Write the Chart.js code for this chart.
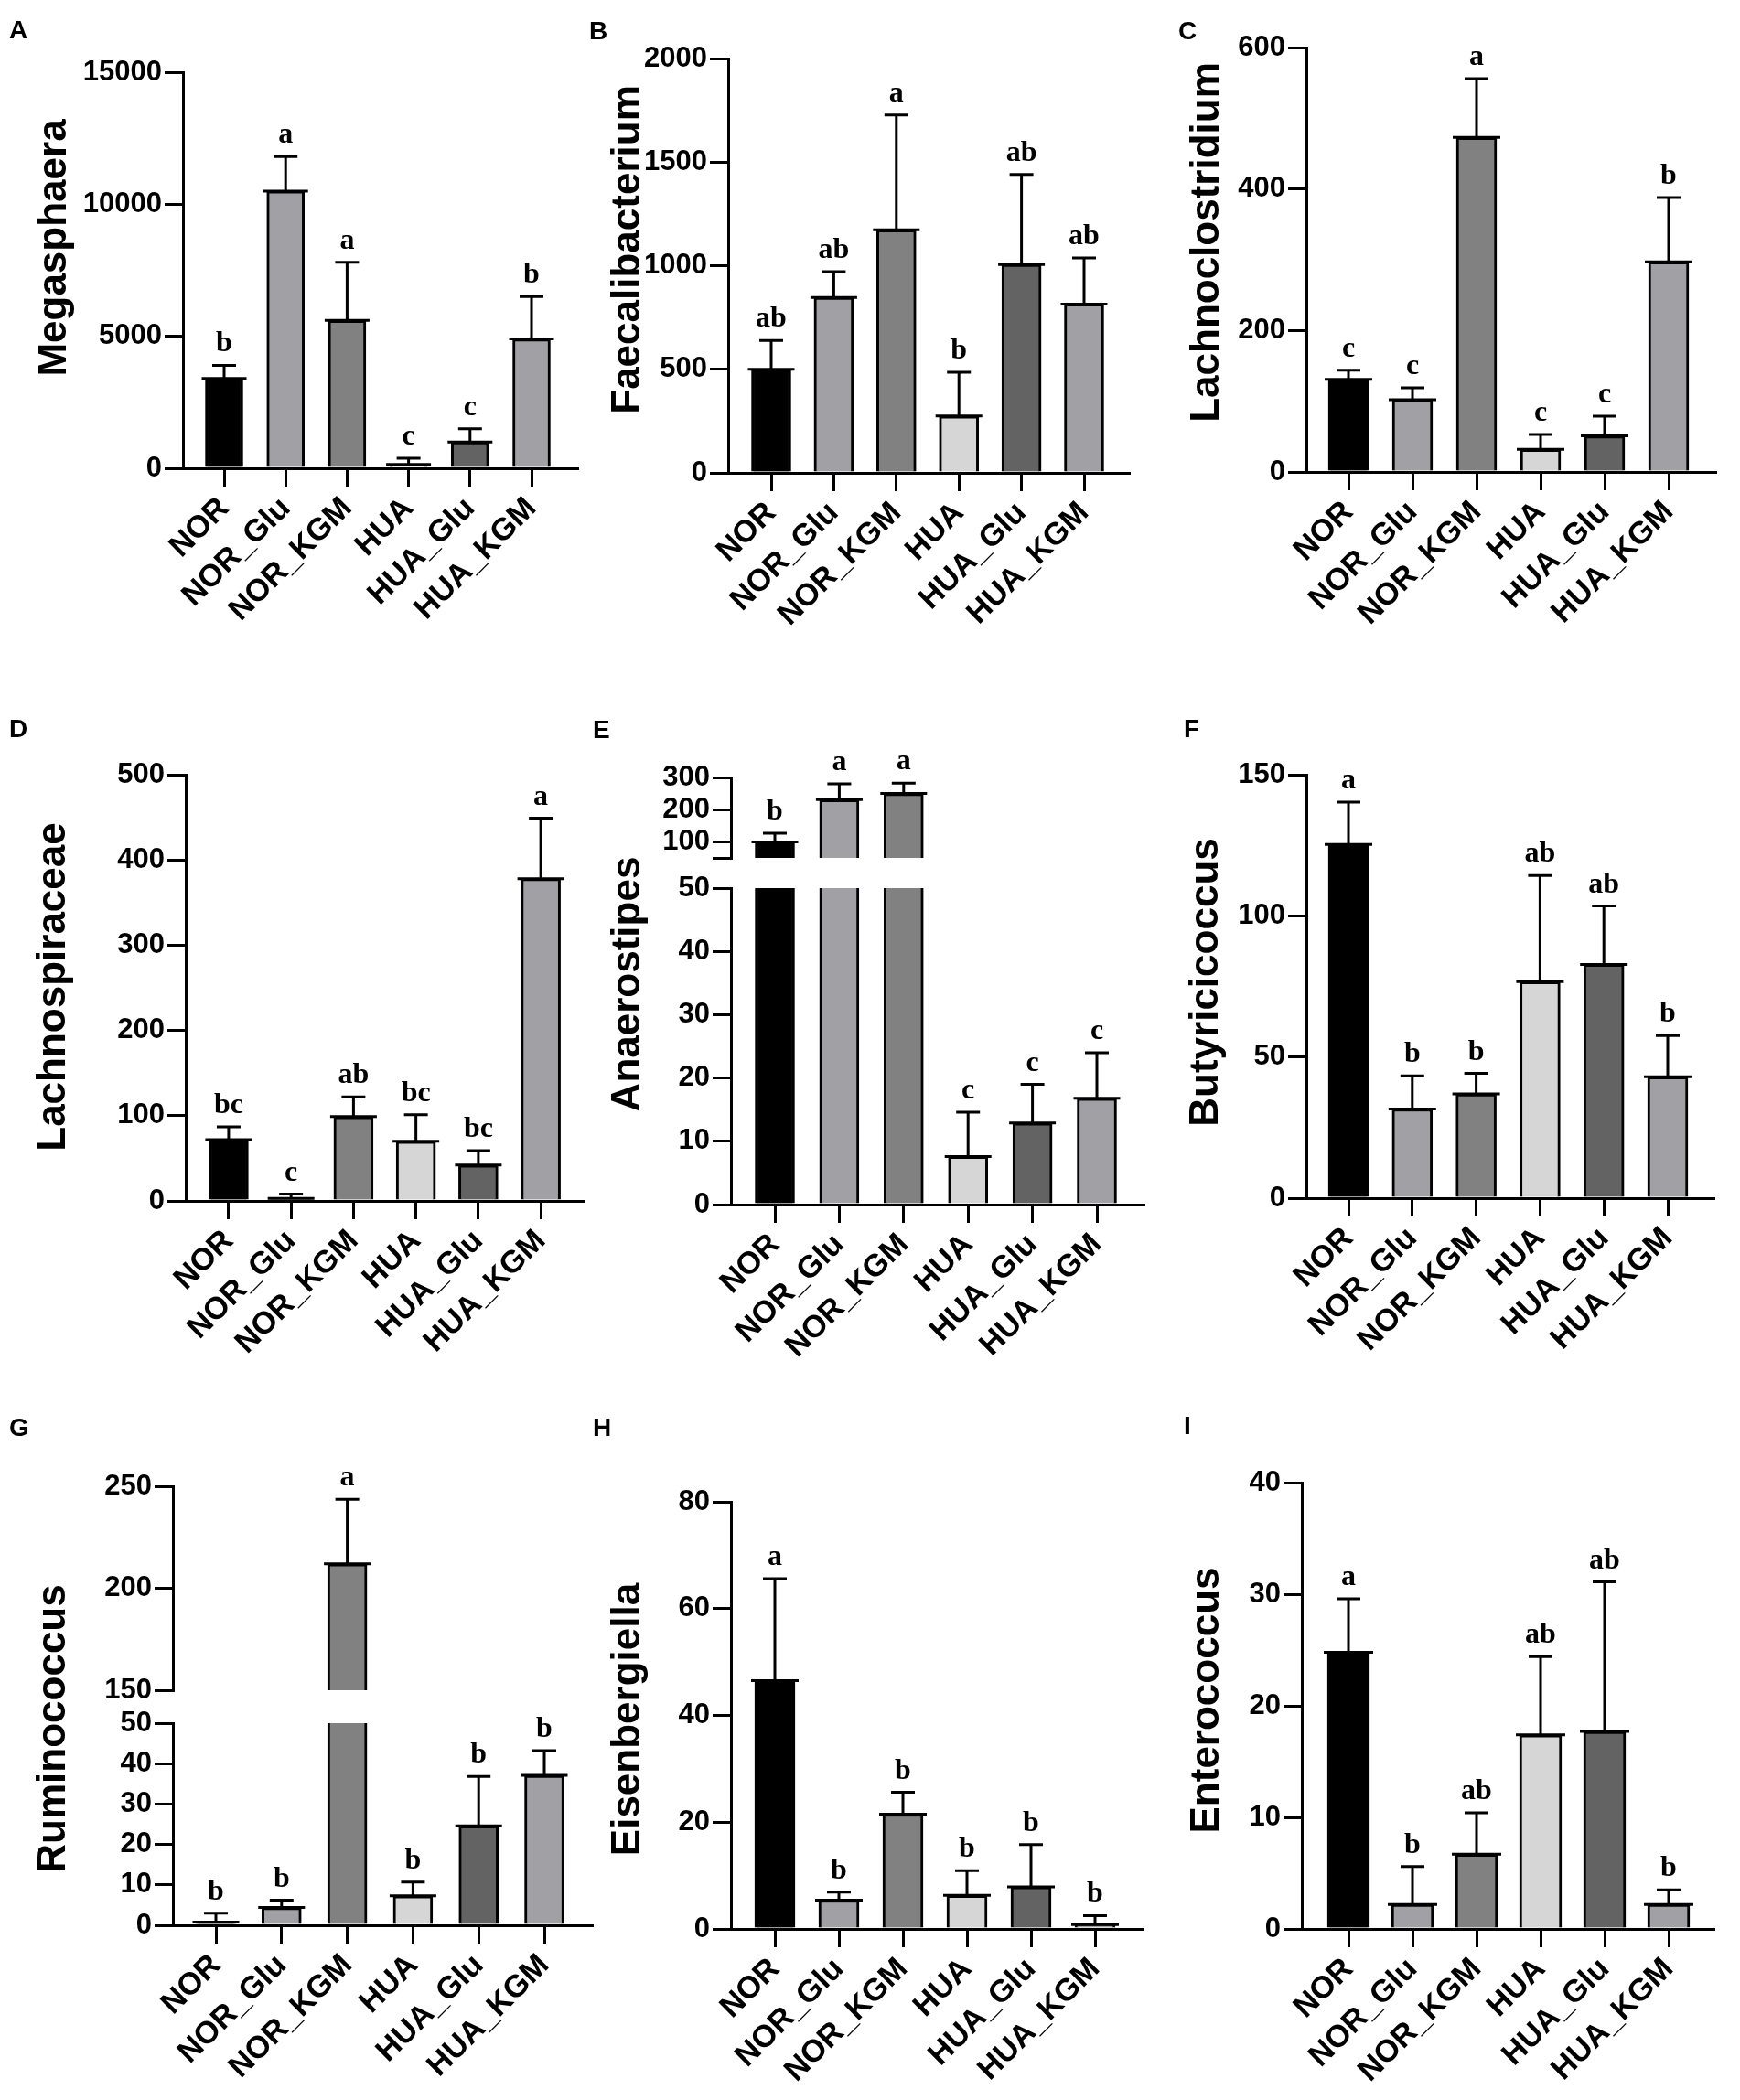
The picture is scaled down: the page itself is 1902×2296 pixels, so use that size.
<!DOCTYPE html>
<html>
<head>
<meta charset="utf-8">
<script src="https://cdn.jsdelivr.net/npm/chart.js@4.4.1/dist/chart.umd.min.js"></script>
<style>
  body { margin: 0; background: #fff; width: 1902px; height: 2296px; position: relative; overflow: hidden; }
  canvas { position: absolute; }
</style>
</head>
<body>
<script>
// groups and colours shared by every panel
const groups = ["NOR", "NOR_Glu", "NOR_KGM", "HUA", "HUA_Glu", "HUA_KGM"];
const barColors = ["#000000", "#a1a1a5", "#818181", "#d6d6d6", "#636363", "#a1a1a5"];

// A
const megasphaeraMean = [3400, 10500, 5600, 150, 1000, 4900];
const megasphaeraUpper = [3900, 11800, 7800, 380, 1500, 6500];
const megasphaeraSig = ["b", "a", "a", "c", "c", "b"];
// B
const faecaliMean = [500, 847, 1173, 275, 1006, 815];
const faecaliUpper = [639, 971, 1727, 486, 1440, 1038];
const faecaliSig = ["ab", "ab", "a", "b", "ab", "ab"];
// C
const lachnoclostMean = [131, 102, 473, 32, 51, 297];
const lachnoclostUpper = [144, 119, 556, 53, 79, 388];
const lachnoclostSig = ["c", "c", "a", "c", "c", "b"];
// D
const lachnospMean = [72, 3, 99, 70, 42, 378];
const lachnospUpper = [87, 8, 122, 101, 59, 449];
const lachnospSig = ["bc", "c", "ab", "bc", "bc", "a"];
// E (broken axis)
const anaeroMean = [100, 231, 250, 7.6, 12.9, 16.8];
const anaeroUpper = [127, 280, 282, 14.6, 19.0, 24.0];
const anaeroSig = ["b", "a", "a", "c", "c", "c"];
const anaeroTopTicks = [50, 100, 200, 300];
// F
const butyriMean = [125.3, 31.6, 36.9, 76.7, 82.8, 43];
const butyriUpper = [140.3, 43.3, 44.2, 114.3, 103.5, 57.6];
const butyriSig = ["a", "b", "b", "ab", "ab", "b"];
// G (broken axis)
const rumiMean = [0.8, 4.4, 212, 7.3, 24.6, 37.1];
const rumiUpper = [3.0, 6.2, 243.6, 10.7, 36.8, 43.2];
const rumiSig = ["b", "b", "a", "b", "b", "b"];
// H
const eisenMean = [46.5, 5.4, 21.5, 6.3, 7.9, 0.8];
const eisenUpper = [65.6, 6.9, 25.6, 10.9, 15.8, 2.5];
const eisenSig = ["a", "b", "b", "b", "b", "b"];
// I
const enteroMean = [24.8, 2.2, 6.7, 17.4, 17.7, 2.2];
const enteroUpper = [29.6, 5.6, 10.4, 24.4, 31.1, 3.5];
const enteroSig = ["a", "b", "ab", "ab", "ab", "b"];

Chart.defaults.font.family = '"Liberation Sans", Arial, sans-serif';
Chart.defaults.color = "#000";

const errorBars = {
  id: "errorBars",
  afterDatasetsDraw(chart) {
    const ctx = chart.ctx;
    const area = chart.chartArea;
    const y = chart.scales.y;
    const ds = chart.data.datasets[0];
    const meta = chart.getDatasetMeta(0);

    ctx.save();
    ctx.beginPath();
    ctx.rect(area.left - 30, area.top - 3, area.right - area.left + 60, area.bottom - area.top + 3);
    ctx.clip();
    ctx.strokeStyle = "#000";
    ctx.lineWidth = 3;
    meta.data.forEach((bar, i) => {
      const yMean = y.getPixelForValue(ds.data[i].y);
      const yErr = y.getPixelForValue(ds.upper[i]);
      const half = bar.width / 2 + 4;
      ctx.beginPath();
      // mean line a little wider than the bar
      ctx.moveTo(bar.x - half, yMean);
      ctx.lineTo(bar.x + half, yMean);
      ctx.moveTo(bar.x, yMean);
      ctx.lineTo(bar.x, yErr);
      ctx.moveTo(bar.x - 13, yErr);
      ctx.lineTo(bar.x + 13, yErr);
      ctx.stroke();
    });
    ctx.restore();

    ctx.save();
    ctx.fillStyle = "#000";
    ctx.font = 'bold 32px "Liberation Serif", "Times New Roman", serif';
    ctx.textAlign = "center";
    ctx.textBaseline = "alphabetic";
    meta.data.forEach((bar, i) => {
      const up = ds.upper[i];
      if (up > y.min && up <= y.max) {
        ctx.fillText(ds.sig[i], bar.x, y.getPixelForValue(up) - 15);
      }
    });
    ctx.restore();
  }
};

const panelText = {
  id: "panelText",
  afterDraw(chart, args, o) {
    const ctx = chart.ctx;
    ctx.save();
    ctx.fillStyle = "#000";
    if (o.letter) {
      ctx.font = 'bold 28px "Liberation Sans", Arial, sans-serif';
      ctx.textAlign = "left";
      ctx.textBaseline = "alphabetic";
      ctx.fillText(o.letter, o.letterX, o.letterY);
    }
    if (o.title) {
      ctx.translate(o.titleX, o.titleY);
      ctx.rotate(-Math.PI / 2);
      ctx.font = 'bold 44px "Liberation Sans", Arial, sans-serif';
      ctx.textAlign = "center";
      ctx.textBaseline = "middle";
      ctx.fillText(o.title, 0, 0);
    }
    ctx.restore();
  }
};

function drawPanel(p) {
  const canvas = document.createElement("canvas");
  canvas.width = p.width;
  canvas.height = p.height;
  canvas.style.left = p.left + "px";
  canvas.style.top = p.top + "px";
  canvas.style.width = p.width + "px";
  canvas.style.height = p.height + "px";
  document.body.appendChild(canvas);

  const xh = p.showX ? 180 : 0;
  const padBottom = p.showX ? p.top + p.height - p.zeroPx - xh : p.top + p.height - p.zeroPx;
  const xMin = -(p.firstBar - p.axisX) / p.spacing;
  const xMax = 5 + (p.xEnd - (p.firstBar + 5 * p.spacing)) / p.spacing;

  new Chart(canvas, {
    type: "bar",
    data: {
      datasets: [{
        data: p.mean.map((v, i) => ({ x: i, y: v })),
        upper: p.upper,
        sig: p.sig,
        backgroundColor: barColors,
        borderColor: "#000",
        borderWidth: 3,
        barThickness: p.barWidth || 43,
        clip: { left: 10, right: 10, top: 0, bottom: 0 }
      }]
    },
    options: {
      responsive: false,
      animation: false,
      devicePixelRatio: 1,
      layout: {
        padding: {
          left: 0,
          top: p.maxPx - p.top,
          right: p.left + p.width - p.xEnd,
          bottom: padBottom
        }
      },
      plugins: {
        legend: { display: false },
        tooltip: { enabled: false },
        panelText: {
          letter: p.letter ? p.letter[0] : "",
          letterX: p.letter ? p.letter[1] - p.left : 0,
          letterY: p.letter ? p.letter[2] - p.top : 0,
          title: p.title ? p.title[0] : "",
          titleX: p.title ? p.title[1] - p.left : 0,
          titleY: p.title ? p.title[2] - p.top : 0
        }
      },
      scales: {
        x: {
          type: "linear",
          display: p.showX,
          offset: false,
          min: xMin,
          max: xMax,
          afterBuildTicks: s => { s.ticks = groups.map((g, i) => ({ value: i })); },
          afterFit: s => { s.height = xh; },
          grid: { drawOnChartArea: false, offset: false, tickLength: 20, lineWidth: 3, color: "#000" },
          border: { display: true, width: 3, color: "#000" },
          ticks: {
            autoSkip: false,
            minRotation: 45,
            maxRotation: 45,
            padding: 4,
            font: { size: 34, weight: "bold" },
            callback: v => groups[v]
          }
        },
        y: {
          min: p.min,
          max: p.max,
          afterBuildTicks: s => { if (p.tickList) s.ticks = p.tickList.map(v => ({ value: v })); },
          afterFit: s => { s.width = p.axisX - p.left; },
          grid: { drawOnChartArea: false, tickLength: 20, lineWidth: 3, color: "#000" },
          border: { display: true, width: 3, color: "#000" },
          ticks: {
            autoSkip: false,
            stepSize: p.step,
            padding: 3,
            font: { size: 31, weight: "bold" },
            callback: v => (p.hideTick === v ? "" : String(v))
          }
        }
      }
    },
    plugins: [errorBars, panelText]
  });
}

const panels = [
  { left: 0, top: 0, width: 640, height: 700, axisX: 200, maxPx: 79, zeroPx: 512, firstBar: 245, spacing: 67.2, xEnd: 631,
    min: 0, max: 15000, step: 5000, showX: true, mean: megasphaeraMean, upper: megasphaeraUpper, sig: megasphaeraSig,
    letter: ["A", 10, 42], title: ["Megasphaera", 60, 271], barWidth: 41 },
  { left: 640, top: 0, width: 640, height: 705, axisX: 796, maxPx: 64, zeroPx: 517, firstBar: 843, spacing: 68.4, xEnd: 1234,
    min: 0, max: 2000, step: 500, showX: true, mean: faecaliMean, upper: faecaliUpper, sig: faecaliSig,
    letter: ["B", 644, 43], title: ["Faecalibacterium", 687, 273] },
  { left: 1280, top: 0, width: 622, height: 705, axisX: 1428, maxPx: 52, zeroPx: 516, firstBar: 1474, spacing: 70, xEnd: 1875,
    min: 0, max: 600, step: 200, showX: true, mean: lachnoclostMean, upper: lachnoclostUpper, sig: lachnoclostSig,
    letter: ["C", 1288, 43], title: ["Lachnoclostridium", 1320, 265], barWidth: 44 },
  { left: 0, top: 770, width: 640, height: 730, axisX: 203, maxPx: 847, zeroPx: 1313, firstBar: 251, spacing: 69.8, xEnd: 650,
    min: 0, max: 500, step: 100, showX: true, mean: lachnospMean, upper: lachnospUpper, sig: lachnospSig,
    letter: ["D", 10, 806], title: ["Lachnospiraceae", 59, 1079] },
  { left: 640, top: 770, width: 640, height: 193, axisX: 799, maxPx: 850, zeroPx: 938, firstBar: 847, spacing: 70.4, xEnd: 1250,
    min: 50, max: 300, tickList: anaeroTopTicks, hideTick: 50, showX: false, mean: anaeroMean, upper: anaeroUpper, sig: anaeroSig,
    letter: ["E", 648, 807] },
  { left: 640, top: 880, width: 640, height: 625, axisX: 799, maxPx: 971, zeroPx: 1317, firstBar: 847, spacing: 70.4, xEnd: 1250,
    min: 0, max: 50, step: 10, showX: true, mean: anaeroMean, upper: anaeroUpper, sig: anaeroSig,
    title: ["Anaerostipes", 687, 1076] },
  { left: 1280, top: 770, width: 622, height: 730, axisX: 1428, maxPx: 847, zeroPx: 1310, firstBar: 1474, spacing: 69.8, xEnd: 1873,
    min: 0, max: 150, step: 50, showX: true, mean: butyriMean, upper: butyriUpper, sig: butyriSig,
    letter: ["F", 1294, 806], title: ["Butyricicoccus", 1319, 1074], barWidth: 44 },
  { left: 0, top: 1530, width: 660, height: 343, axisX: 189, maxPx: 1625, zeroPx: 1848, firstBar: 236, spacing: 71.8, xEnd: 647,
    min: 150, max: 250, step: 50, showX: false, mean: rumiMean, upper: rumiUpper, sig: rumiSig,
    letter: ["G", 10, 1570] },
  { left: 0, top: 1700, width: 660, height: 596, axisX: 189, maxPx: 1884, zeroPx: 2105, firstBar: 236, spacing: 71.8, xEnd: 647,
    min: 0, max: 50, step: 10, showX: true, mean: rumiMean, upper: rumiUpper, sig: rumiSig,
    title: ["Ruminococcus", 59, 1890] },
  { left: 640, top: 1530, width: 640, height: 764, axisX: 799, maxPx: 1642, zeroPx: 2109, firstBar: 847, spacing: 70, xEnd: 1248,
    min: 0, max: 80, step: 20, showX: true, mean: eisenMean, upper: eisenUpper, sig: eisenSig,
    letter: ["H", 648, 1570], title: ["Eisenbergiella", 687, 1880], barWidth: 44 },
  { left: 1280, top: 1530, width: 622, height: 764, axisX: 1423, maxPx: 1621, zeroPx: 2109, firstBar: 1474, spacing: 70, xEnd: 1873,
    min: 0, max: 40, step: 10, showX: true, mean: enteroMean, upper: enteroUpper, sig: enteroSig,
    letter: ["I", 1294, 1568], title: ["Enterococcus", 1320, 1859], barWidth: 46 }
];

panels.forEach(drawPanel);
</script>
</body>
</html>
